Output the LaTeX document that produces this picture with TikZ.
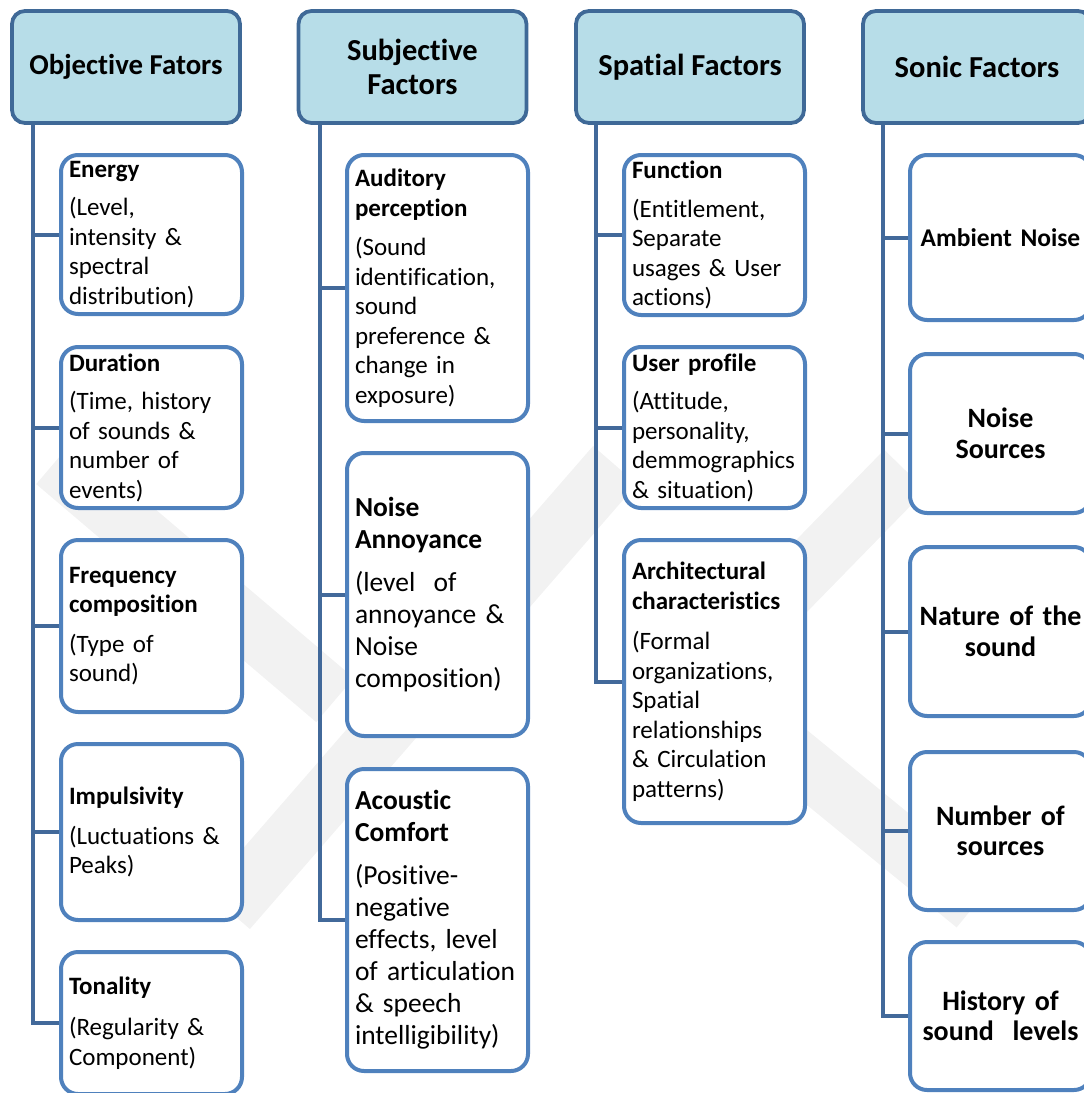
\documentclass[tikz,border=0pt]{standalone}
\usepackage{fontspec}
\setmainfont{Carlito}[Ligatures=NoCommon]
\definecolor{hdrfill}{HTML}{B7DDE8}
\definecolor{hdrline}{HTML}{3F6997}
\definecolor{boxline}{HTML}{4F81BD}
\definecolor{trunkc}{HTML}{42699A}
\definecolor{wmark}{HTML}{F2F2F2}

\tikzset{
  header/.style={draw=hdrline, fill=hdrfill, line width=3.8pt, rounded corners=13pt,
    minimum width=228pt, minimum height=112pt, inner sep=0pt, align=center,
    font=\fontsize{30.5}{34}\selectfont\bfseries},
  item/.style={draw=boxline, fill=white, line width=4pt, rounded corners=17pt,
    minimum width=181pt, text width=165pt, inner xsep=8pt, inner ysep=0pt,
    align=left, anchor=west, font=\fontsize{25}{29.5}\selectfont},
  bigitem/.style={item, font=\fontsize{27.5}{32}\selectfont},
  sonic/.style={item, align=center, font=\fontsize{28}{30.5}\selectfont\bfseries},
  link/.style={draw=trunkc, line width=4pt},
  wm/.style={draw=wmark, line width=58pt},
}

\begin{document}
\begin{tikzpicture}[x=1pt, y=-1pt]
  \useasboundingbox (0,0) rectangle (1084,1093);
  \clip (0,0) rectangle (1084,1093);

  % faint background emblem
  \draw[wm] (55,462) -- (335,700);
  \draw[wm] (228,910) -- (615,465);
  \draw[wm, line join=miter] (905,470) -- (700,680) -- (975,905);

  % column headers
  \node[header, font=\fontsize{28.8}{34}\selectfont\bfseries] (obj) at (126,67) {Objective Fators};
  \node[header] (sub) at (412.5,67) {Subjective\\Factors};
  \node[header] (spa) at (690,67)   {Spatial Factors};
  \node[header] (son) at (977,67)   {Sonic Factors};

  % trunk start points under each header
  \coordinate (objT) at ([xshift=23pt]obj.south west);
  \coordinate (subT) at ([xshift=23pt]sub.south west);
  \coordinate (spaT) at ([xshift=22pt]spa.south west);
  \coordinate (sonT) at ([xshift=22pt]son.south west);

  % objective factors
  \node[item, minimum height=159pt] (o1) at (59,234.5)
    {\textbf{Energy}\\[9pt](Level,\\intensity \&\\spectral\\distribution)};
  \node[item, minimum height=161pt] (o2) at (59,427.5)
    {\textbf{Duration}\\[9pt](Time, history\\of sounds \&\\number of\\events)};
  \node[item, minimum height=172pt] (o3) at (59,626)
    {\textbf{Frequency}\\\textbf{composition}\\[10pt](Type of\\sound)};
  \node[item, minimum height=176pt] (o4) at (59,832)
    {\textbf{Impulsivity}\\[10pt](Luctuations \&\\Peaks)};
  \node[item, minimum height=142pt] (o5) at (59,1023)
    {\textbf{Tonality}\\[12pt](Regularity \&\\Component)};

  % subjective factors
  \node[item, minimum height=266pt] (s1) at (345,288)
    {\textbf{Auditory}\\\textbf{perception}\\[10pt](Sound\\identification,\\sound\\preference \&\\change in\\exposure)};
  \node[bigitem, minimum height=283pt] (s2) at (345,594.5)
    {\textbf{Noise}\\\textbf{Annoyance}\\[11pt](level~ of\\annoyance \&\\Noise\\composition)};
  \node[bigitem, minimum height=302pt] (s3) at (345,920)
    {\textbf{Acoustic}\\\textbf{Comfort}\\[11pt](Positive-\\negative\\effects, level\\of articulation\\\& speech\\intelligibility)};

  % spatial factors
  \node[item, minimum height=160pt] (p1) at (622,235)
    {\textbf{Function}\\[9pt](Entitlement,\\Separate\\usages \& User\\actions)};
  \node[item, minimum height=161pt] (p2) at (622,427.5)
    {\textbf{User profile}\\[9pt](Attitude,\\personality,\\demmographics\\\& situation)};
  \node[item, minimum height=283pt] (p3) at (622,681.5)
    {\textbf{Architectural}\\\textbf{characteristics}\\[11pt](Formal\\organizations,\\Spatial\\relationships\\\& Circulation\\patterns)};

  % sonic factors
  \node[sonic, minimum height=165pt, font=\fontsize{25.5}{30}\selectfont\bfseries] (n1) at (908,237.5) {Ambient Noise};
  \node[sonic, minimum height=159pt] (n2) at (908,433.5) {Noise\\Sources};
  \node[sonic, minimum height=169pt] (n3) at (908,631.5) {Nature of the\\sound};
  \node[sonic, minimum height=158pt] (n4) at (908,831)   {Number of\\sources};
  \node[sonic, minimum height=148pt] (n5) at (908,1016)  {History of\\sound~ levels};

  % tree connectors
  \draw[link] (objT) |- (o5.west);
  \foreach \c in {o1,o2,o3,o4} \draw[link] (objT |- \c.west) -- (\c.west);
  \draw[link] (subT) |- (s3.west);
  \foreach \c in {s1,s2} \draw[link] (subT |- \c.west) -- (\c.west);
  \draw[link] (spaT) |- (p3.west);
  \foreach \c in {p1,p2} \draw[link] (spaT |- \c.west) -- (\c.west);
  \draw[link] (sonT) |- (n5.west);
  \foreach \c in {n1,n2,n3,n4} \draw[link] (sonT |- \c.west) -- (\c.west);
\end{tikzpicture}
\end{document}
